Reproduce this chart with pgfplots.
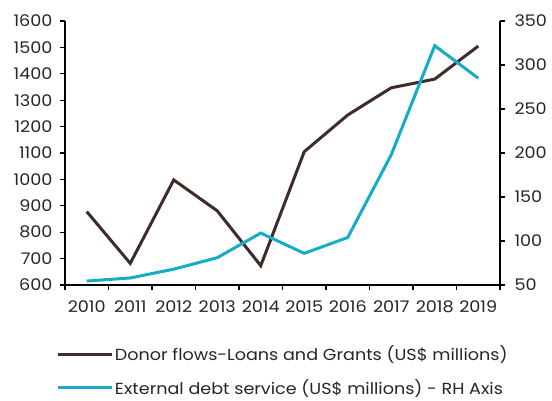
\documentclass[border=0pt]{standalone}
\usepackage{pgfplots}
\pgfplotsset{compat=1.18}
\usepackage{fontspec}
\setmainfont{Poppins}[FakeStretch=1.1]
\definecolor{donor}{RGB}{62,44,42}
\definecolor{debt}{RGB}{22,171,199}
\pgfplotstableread{
x donor debt
0 878 54.5
1 682 58
2 998 68
3 881 81
4 673 109
5 1105 86
6 1244 104
7 1347 198
8 1380 322
9 1505 285
}\datatable
\begin{document}
\begin{tikzpicture}[x=1pt,y=1pt]
\useasboundingbox (0,0) rectangle (552,400);
\pgfplotsset{
  common/.style={
    width=435pt, height=264pt, scale only axis,
    at={(65pt,115pt)}, anchor=south west,
    xmin=-0.5, xmax=9.5,
    axis line style={-, line width=1.6pt, black},
    tick style={line width=1.3pt, black},
    tick align=outside,
    major tick length=5pt, minor tick length=5pt,
    /pgf/number format/assume math mode=true,
    /pgf/number format/1000 sep={},
    tick label style={font=\fontsize{16}{19}\selectfont, text=black!85},
  }
}
\begin{axis}[common,
  axis x line*=bottom, axis y line*=left,
  ymin=600, ymax=1600, ytick={600,700,...,1600},
  yticklabel style={xshift=-4pt},
  xtick={0,...,9},
  xticklabels={2010,2011,2012,2013,2014,2015,2016,2017,2018,2019},
  xticklabel style={yshift=-7pt},
  minor xtick={-0.5,0.5,...,9.5},
  major x tick style={draw=none},
  legend style={at={(axis description cs:-0.0184,-0.325)}, anchor=west,
    draw=none, fill=none, inner sep=0pt, outer sep=0pt,
    font=\fontsize{16}{19}\selectfont, text=black!85,
    row sep=15pt, nodes={inner sep=1pt}},
  legend cell align=left,
  legend image code/.code={\draw[#1] (0pt,0pt) -- (54pt,0pt);},
]
\addplot[donor, line width=3pt] table[x=x, y=donor] {\datatable};
\addlegendentry{Donor flows-Loans and Grants (US\$ millions)}
\addlegendimage{debt, line width=3pt}
\addlegendentry{External debt service (US\$ millions) - RH Axis}
\end{axis}
\begin{axis}[common,
  axis y line*=right, axis x line=none,
  ymin=50, ymax=350, ytick={50,100,...,350},
  yticklabel style={xshift=6pt},
]
\addplot[debt, line width=3pt] table[x=x, y=debt] {\datatable};
\end{axis}
\end{tikzpicture}
\end{document}
